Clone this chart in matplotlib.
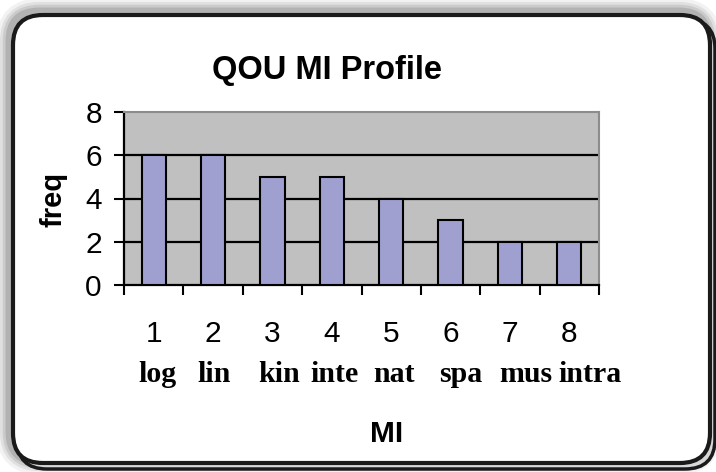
import matplotlib
matplotlib.use("Agg")
import matplotlib.pyplot as plt
from matplotlib.patches import FancyBboxPatch
from matplotlib.transforms import blended_transform_factory

# ---- data ----
categories = [1, 2, 3, 4, 5, 6, 7, 8]
category_names = ["log", "lin", "kin", "inte", "nat", "spa", "mus", "intra"]
freq = [6, 6, 5, 5, 4, 3, 2, 2]
y_ticks = [0, 2, 4, 6, 8]
title = "QOU MI Profile"
x_title = "MI"
y_title = "freq"

# small horizontal nudges (pixels) for the name labels as in the original
name_nudge_px = [4, 1, 7, 3, 3, 10, 16, 21]

W, H, DPI = 716, 472, 100
fig = plt.figure(figsize=(W / DPI, H / DPI), dpi=DPI)
fig.patch.set_facecolor("white")

sans = ["Liberation Sans", "DejaVu Sans"]
serif = ["Liberation Serif", "DejaVu Serif"]

# ---- rounded frame with shadow ----
def px_box(x0, y0_top, x1, y1_bottom):
    return (x0 / DPI, (H - y1_bottom) / DPI, (x1 - x0) / DPI, (y1_bottom - y0_top) / DPI)

for lw, a in [(18, 0.05), (13, 0.07), (9, 0.09), (5, 0.12)]:
    x, y, w, h = px_box(9, 11, 709, 462)
    sh = FancyBboxPatch((x, y), w, h, boxstyle="round,pad=0,rounding_size=0.30",
                        transform=fig.dpi_scale_trans, facecolor="none",
                        edgecolor="black", linewidth=lw, alpha=a, zorder=-10)
    fig.add_artist(sh)

x, y, w, h = px_box(17, 19, 715, 469)
outer = FancyBboxPatch((x, y), w, h, boxstyle="round,pad=0,rounding_size=0.30",
                       transform=fig.dpi_scale_trans, facecolor="#d8d8d8",
                       edgecolor="#1a1a1a", linewidth=2.5, zorder=-9)
fig.add_artist(outer)

x, y, w, h = px_box(13, 15, 710, 463)
frame = FancyBboxPatch((x, y), w, h, boxstyle="round,pad=0,rounding_size=0.30",
                       transform=fig.dpi_scale_trans, facecolor="white",
                       edgecolor="#1a1a1a", linewidth=3.0, zorder=-8)
fig.add_artist(frame)

# ---- axes ----
ax = fig.add_axes([124 / W, 1 - 285 / H, 475 / W, 173 / H])
ax.set_facecolor("#c0c0c0")
ax.set_zorder(1)

ax.bar(categories, freq, width=0.41, color="#a0a0d0", edgecolor="black",
       linewidth=1.5, zorder=3)

ax.set_xlim(0.5, 8.5)
ax.set_ylim(0, 8)

for yv in y_ticks[1:-1]:
    ax.axhline(yv, color="black", linewidth=1.6, zorder=1)

for s in ["top", "right"]:
    ax.spines[s].set_color("#8c8c8c")
    ax.spines[s].set_linewidth(1.5)
for s in ["left", "bottom"]:
    ax.spines[s].set_color("black")
    ax.spines[s].set_linewidth(1.6)

ax.set_yticks(y_ticks)
ax.set_yticklabels([str(v) for v in y_ticks], fontfamily=sans, fontsize=21.5)
ax.tick_params(axis="y", direction="out", length=7, width=1.5, pad=9)

ax.set_xticks([c - 0.5 for c in categories] + [categories[-1] + 0.5])
ax.set_xticklabels([])
ax.tick_params(axis="x", which="major", direction="out", length=7.5, width=1.5)
ax.set_xticks(categories, minor=True)
ax.set_xticklabels([str(c) for c in categories], minor=True, fontfamily=sans,
                   fontsize=21.5)
ax.tick_params(axis="x", which="minor", length=0, pad=25)

trans = blended_transform_factory(ax.transData, ax.transAxes)
for c, name, dx in zip(categories, category_names, name_nudge_px):
    ax.annotate(name, xy=(c, 0), xycoords=trans,
                xytext=(dx * 72 / DPI, -90 * 72 / DPI), textcoords="offset points",
                ha="center", va="center", fontfamily=serif, fontweight="bold",
                fontsize=21.5, annotation_clip=False)

fig.text(327 / W, 1 - 70 / H, title, ha="center", va="center",
         fontfamily=sans, fontweight="bold", fontsize=23.5)
fig.text(387 / W, 1 - 434 / H, x_title, ha="center", va="center",
         fontfamily=sans, fontweight="bold", fontsize=21.5)
fig.text(53 / W, 1 - 199 / H, y_title, ha="center", va="center", rotation=90,
         fontfamily=sans, fontweight="bold", fontsize=21)

fig.savefig("out.png", dpi=DPI)
